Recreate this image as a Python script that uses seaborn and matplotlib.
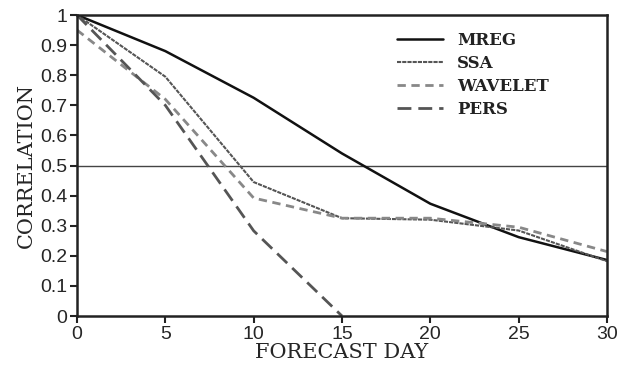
import numpy as np
import pandas as pd
import matplotlib
matplotlib.use('Agg')
import matplotlib.pyplot as plt
from matplotlib.ticker import FuncFormatter
import seaborn as sns

# Forecast skill values
days = [0, 5, 10, 15, 20, 25, 30]
mreg = [1.0, 0.88, 0.725, 0.54, 0.373, 0.262, 0.186]
ssa = [1.0, 0.795, 0.445, 0.325, 0.32, 0.284, 0.182]
wavelet = [0.95, 0.72, 0.392, 0.325, 0.325, 0.295, 0.214]
pers_days = [0, 5, 10, 15]
pers = [1.0, 0.70, 0.283, 0.0]

sns.set_style("ticks")

fig = plt.figure(figsize=(6.28, 3.65), dpi=100)
ax = fig.add_axes([0.1226, 0.1342, 0.8440, 0.8247])

# horizontal reference line at 0.5
ax.axhline(0.5, color='#444444', lw=1.0, zorder=1)

sns.lineplot(x=days, y=mreg, ax=ax, color='#111111', lw=1.8, label='MREG')
sns.lineplot(x=days, y=ssa, ax=ax, color='#555555', lw=1.5, label='SSA',
             linestyle=(0, (2, 0.5)))
sns.lineplot(x=days, y=wavelet, ax=ax, color='#888888', lw=2.0, label='WAVELET',
             linestyle=(0, (3, 2)))
sns.lineplot(x=pers_days, y=pers, ax=ax, color='#555555', lw=2.0, label='PERS',
             linestyle=(0, (5, 2.5)))

ax.set_xlim(0, 30)
ax.set_ylim(0, 1)
ax.set_xticks([0, 5, 10, 15, 20, 25, 30])
ax.set_yticks(np.arange(0, 1.01, 0.1))
ax.yaxis.set_major_formatter(FuncFormatter(
    lambda v, p: f"{int(round(v))}" if round(v, 3) in (0, 1) else f"{v:.1f}"))

for lab in ax.get_xticklabels() + ax.get_yticklabels():
    lab.set_fontfamily('Liberation Sans')
    lab.set_fontsize(14)
ax.tick_params(direction='out', length=5, width=1.5, color='#222222', pad=2)

for sp in ax.spines.values():
    sp.set_linewidth(1.8)
    sp.set_color('#222222')

ax.set_xlabel('FORECAST DAY', fontfamily='DejaVu Serif', fontsize=15, labelpad=0)
ax.set_ylabel('CORRELATION', fontfamily='DejaVu Serif', fontsize=15, labelpad=3)

leg = ax.legend(loc='upper right', bbox_to_anchor=(0.918, 0.993), frameon=False,
                prop={'family': 'DejaVu Serif', 'size': 12, 'weight': 'bold'},
                handlelength=2.75, handletextpad=0.85, labelspacing=0.35)
for t in leg.get_texts():
    t.set_color('#222222')

fig.savefig('out.png', dpi=100)
